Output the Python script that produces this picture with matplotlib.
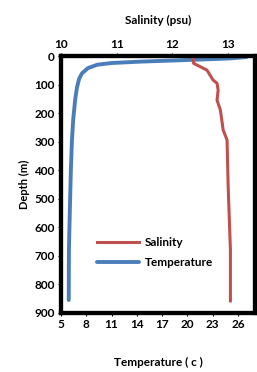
import matplotlib
matplotlib.use("Agg")
import matplotlib.pyplot as plt

plt.rcParams['font.family'] = ['Lato', 'DejaVu Sans']
plt.rcParams['font.weight'] = 'bold'

# temperature profile (bottom axis)
temp_depth = [3, 8, 14, 19, 24, 30, 42, 60, 80, 110, 150, 224, 300, 400, 550, 680, 855]
temp_vals = [27.0, 25.0, 19.5, 14.5, 11.0, 9.3, 8.2, 7.5, 7.15, 6.9, 6.7, 6.45, 6.3, 6.18, 6.05, 5.95, 5.93]

# salinity profile (top axis)
sal_depth = [0, 25, 49, 84, 95, 119, 154, 189, 259, 294, 459, 679, 858]
sal_vals = [12.37, 12.38, 12.62, 12.73, 12.80, 12.82, 12.80, 12.86, 12.91, 12.98, 13.0, 13.04, 13.04]

depth_ticks = list(range(0, 1000, 100))
temp_ticks = [5, 8, 11, 14, 17, 20, 23, 26]
sal_ticks = [10, 11, 12, 13]

fig = plt.figure(figsize=(2.57, 3.72), dpi=100)
ax = fig.add_axes([0.237, 0.159, 0.755, 0.69])
ax2 = ax.twiny()

l_temp, = ax.plot(temp_vals, temp_depth, color='#4A7EBB', lw=2.8,
                  solid_capstyle='round', solid_joinstyle='round', label='Temperature')
l_sal, = ax2.plot(sal_vals, sal_depth, color='#C0504D', lw=2.2,
                  solid_joinstyle='round', label='Salinity')

ax.set_xlim(5, 28)
ax2.set_xlim(10, 13.48)
ax.set_ylim(900, 0)
ax.set_yticks(depth_ticks)
ax.set_xticks(temp_ticks)
ax2.set_xticks(sal_ticks)

for a in (ax, ax2):
    for s in a.spines.values():
        s.set_linewidth(3)
        s.set_color('black')
    a.tick_params(labelsize=8.5, length=2.5, width=0.8, pad=2)

ax.set_ylabel('Depth (m)', fontsize=8, fontweight='bold', labelpad=3)
ax.set_xlabel('Temperature ( c )', fontsize=8.5, fontweight='bold', labelpad=19)
ax2.set_xlabel('Salinity (psu)', fontsize=8.5, fontweight='bold', labelpad=11)

ax.legend([l_sal, l_temp], ['Salinity', 'Temperature'], frameon=False, fontsize=8.5,
          loc='center left', bbox_to_anchor=(0.13, 0.235), handlelength=3.6,
          handletextpad=0.5, labelspacing=0.8)

fig.savefig('out.png', dpi=100)
